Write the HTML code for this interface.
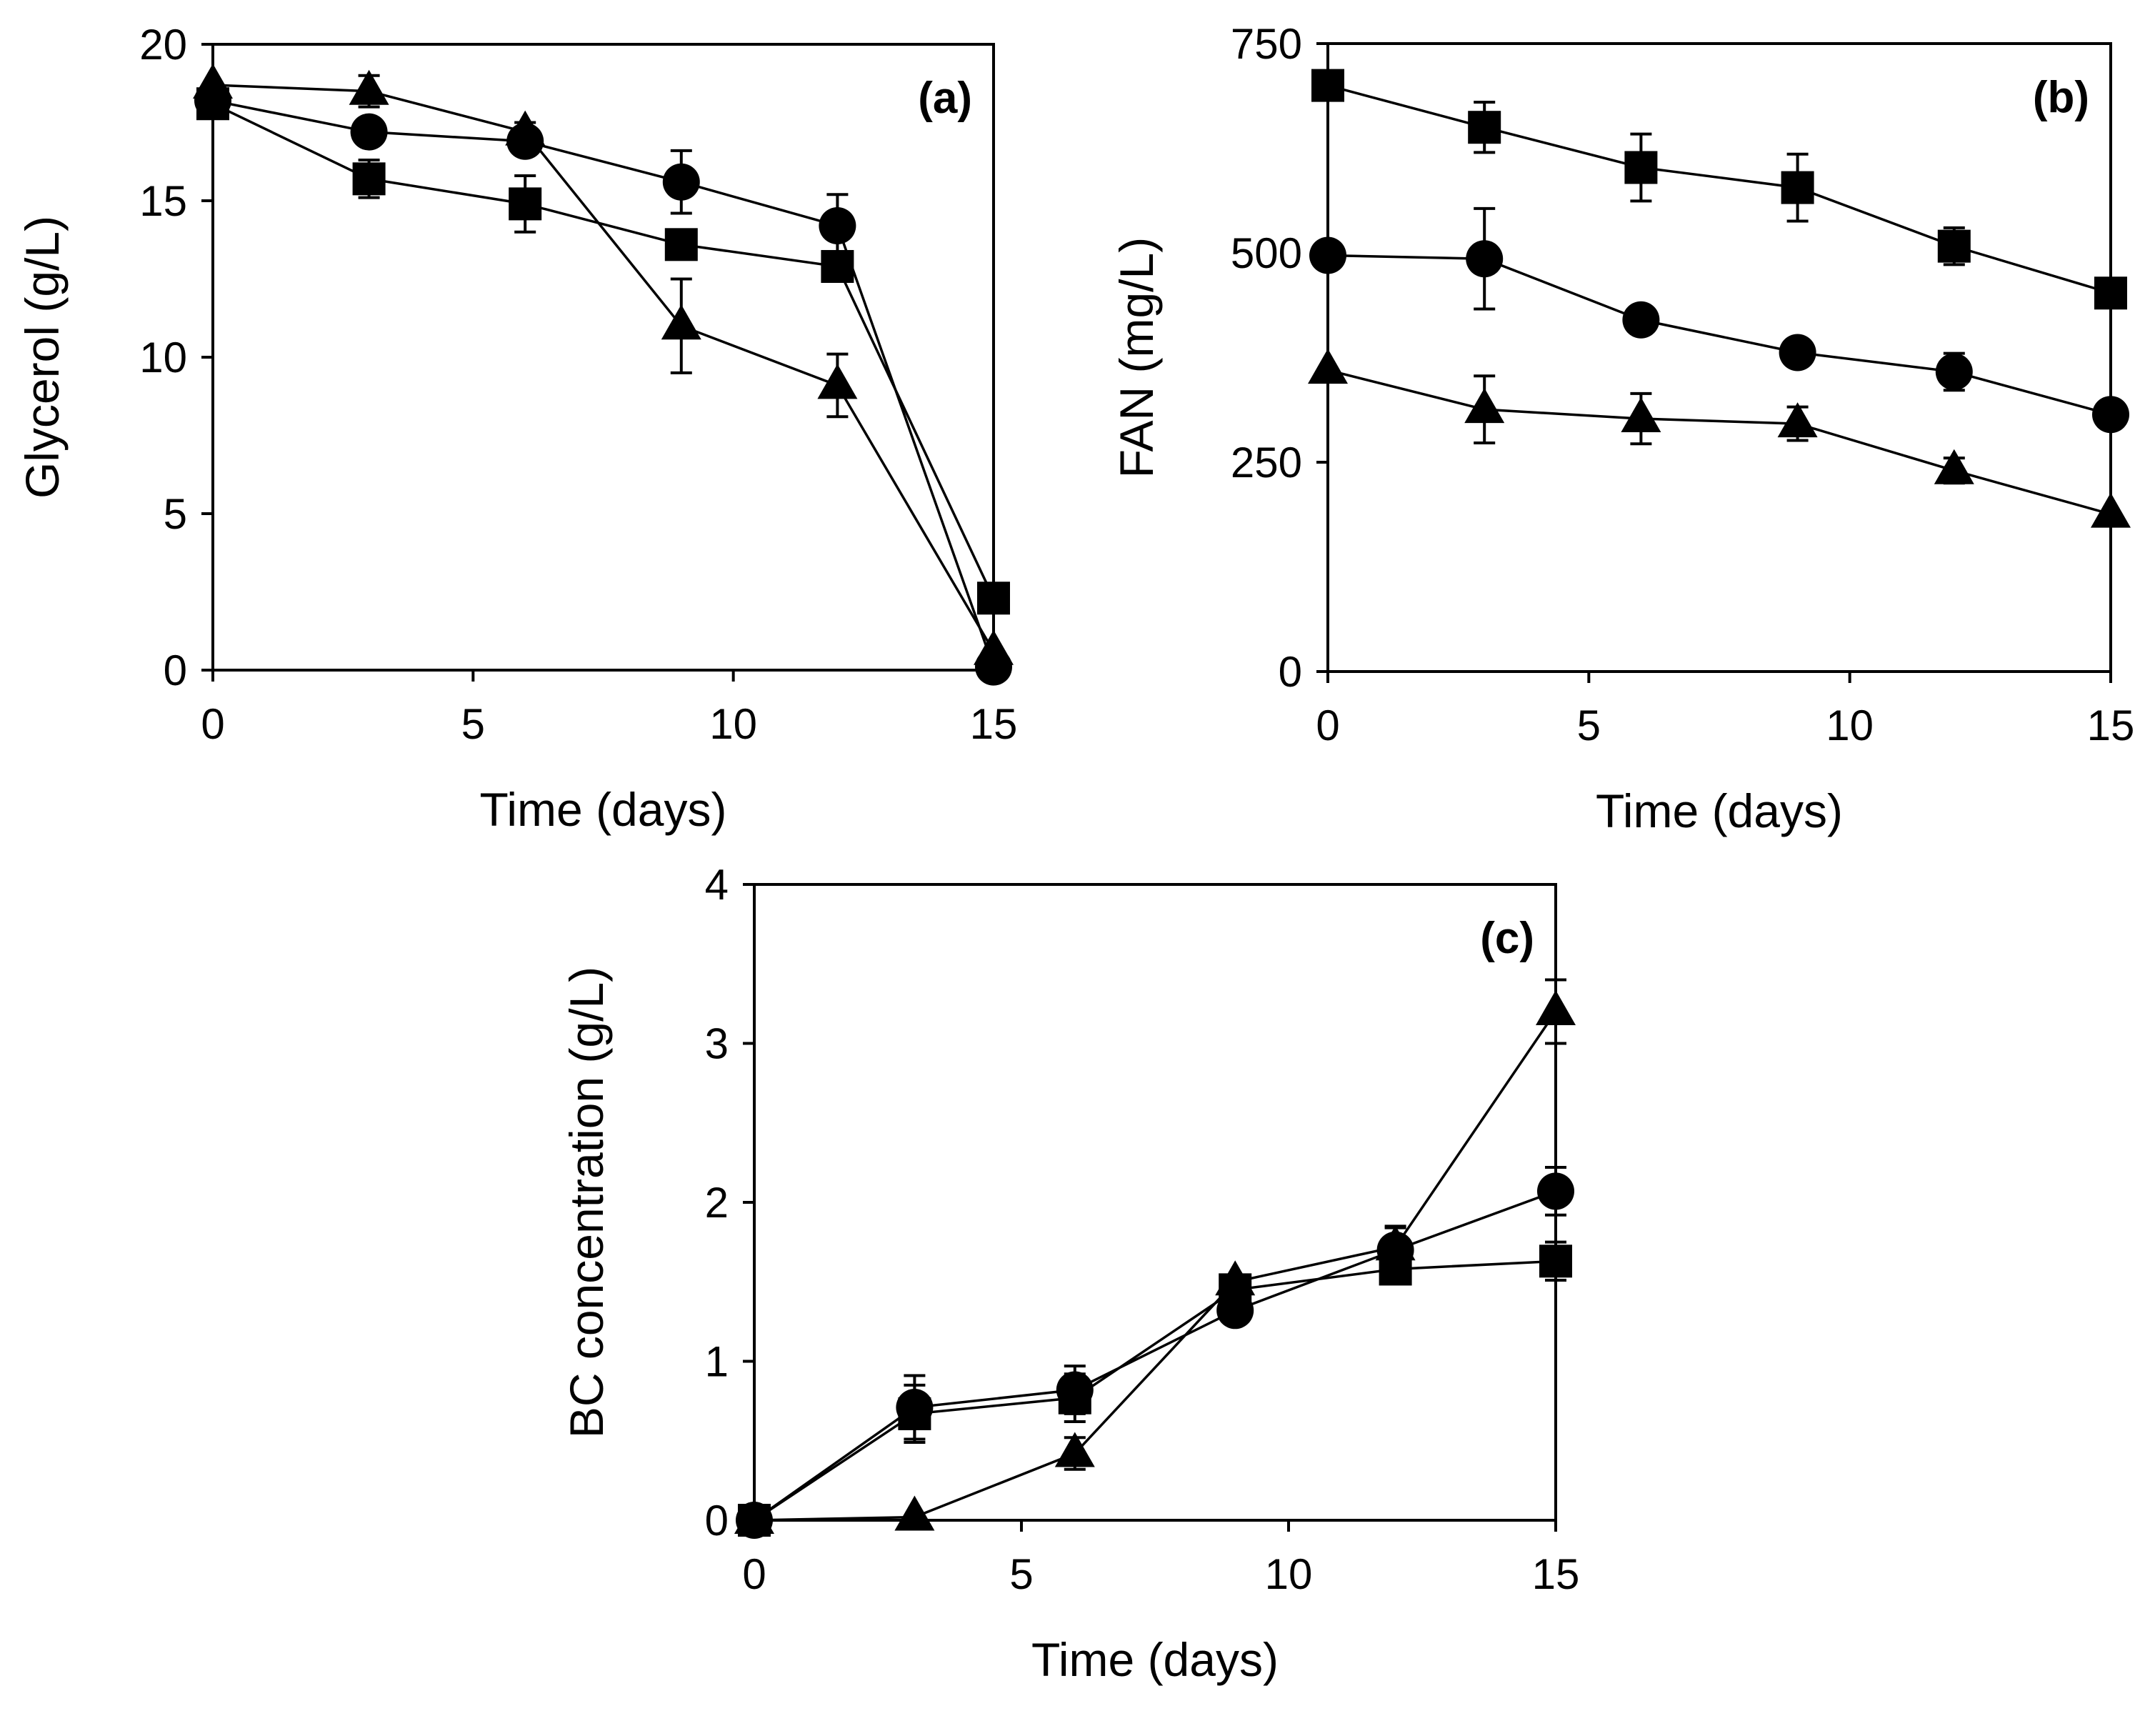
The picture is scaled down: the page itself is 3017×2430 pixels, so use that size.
<!DOCTYPE html>
<html><head><meta charset="utf-8"><style>
html,body{margin:0;padding:0;background:#fff;}
svg{display:block;font-family:"Liberation Sans",Arial,sans-serif;}
</style></head><body>
<svg id="fig" width="3017" height="2430" viewBox="0 0 3017 2430"></svg>
<script>
const days = [0,3,6,9,12,15];
// Panel (a) glycerol g/L
const aSquare = [18.1,15.7,14.9,13.6,12.9,2.3];
const aSquareErr = [0.2,0.6,0.9,0.2,0.3,0];
const aCircle = [18.2,17.2,16.9,15.6,14.2,0.1];
const aCircleErr = [0,0.3,0.3,1.0,1.0,0];
const aTriangle = [18.7,18.5,17.2,11.0,9.1,0.6];
const aTriangleErr = [0,0.5,0.3,1.5,1.0,0];
const aTicks = [0,5,10,15,20];
// Panel (b) FAN mg/L
const bSquare = [700,650,602,578,508,452];
const bSquareErr = [0,30,40,40,22,0];
const bCircle = [497,493,420,381,358,307];
const bCircleErr = [0,60,0,0,22,0];
const bTriangle = [360,313,302,296,240,188];
const bTriangleErr = [0,40,30,20,15,0];
const bTicks = [0,250,500,750];
// Panel (c) BC concentration g/L
const cSquare = [0,0.67,0.77,1.45,1.58,1.63];
const cSquareErr = [0,0.18,0.15,0,0,0.12];
const cCircle = [0,0.71,0.82,1.32,1.70,2.07];
const cCircleErr = [0,0.2,0.15,0,0.15,0.15];
const cTriangle = [0,0.02,0.42,1.50,1.72,3.20];
const cTriangleErr = [0,0,0.1,0,0.12,0.2];
const cTicks = [0,1,2,3,4];
const xTicks = [0,5,10,15];

const NS="http://www.w3.org/2000/svg";
const svg=document.getElementById('fig');
function mk(tag,attrs,parent){const e=document.createElementNS(NS,tag);for(const k in attrs)e.setAttribute(k,attrs[k]);(parent||svg).appendChild(e);return e;}

function panel(p){
  const g=mk('g',{});
  
  
  const sx=v=>p.x0+(v-0)/15*(p.x1-p.x0);
  const sy=v=>p.y0-(v/p.ymax)*(p.y0-p.y1);
  const fr=mk('rect',{x:p.x0,y:p.y1,width:p.x1-p.x0,height:p.y0-p.y1,fill:'none',stroke:'#000','stroke-width':4},g);
  
  
  xTicks.forEach(t=>{
    const l=mk('line',{x1:sx(t),x2:sx(t),y1:p.y0,y2:p.y0+16,stroke:'#000','stroke-width':4},g);
    
    
    const tx=mk('text',{x:sx(t),y:p.y0+96,'text-anchor':'middle','font-size':60},g);
    tx.textContent=t;
    
    
  });
  p.yticks.forEach(t=>{
    const l=mk('line',{x1:p.x0-16,x2:p.x0,y1:sy(t),y2:sy(t),stroke:'#000','stroke-width':4},g);
    
    
    const tx=mk('text',{x:p.x0-36,y:sy(t)+21,'text-anchor':'end','font-size':60},g);
    tx.textContent=t;
    
    
  });
  const xt=mk('text',{x:(p.x0+p.x1)/2,y:p.y0+218,'text-anchor':'middle','font-size':66},g);
  xt.textContent='Time (days)';
  
  
  const yt=mk('text',{x:p.ytx,y:(p.y0+p.y1)/2,'text-anchor':'middle','font-size':66,transform:`rotate(-90 ${p.ytx} ${(p.y0+p.y1)/2})`},g);
  yt.textContent=p.ytitle;
  
  
  const pl=mk('text',{x:p.x1-30,y:p.y1+96,'text-anchor':'end','font-size':62,'font-weight':'bold'},g);
  pl.textContent=p.label;
  
  
  p.series.forEach(s=>{
    const sg=mk('g',{},g);
    
    
    const pts=days.map((d,i)=>sx(d)+','+sy(s.v[i])).join(' ');
    const ln=mk('polyline',{points:pts,fill:'none',stroke:'#000','stroke-width':3.5},sg);
    
    
    days.forEach((d,i)=>{
      const e=s.e[i];const cx=sx(d),cy=sy(s.v[i]);
      if(e>0){
        const eb=mk('path',{d:`M${cx},${sy(s.v[i]-e)}V${sy(s.v[i]+e)}M${cx-15},${sy(s.v[i]+e)}H${cx+15}M${cx-15},${sy(s.v[i]-e)}H${cx+15}`,stroke:'#000','stroke-width':4,fill:'none'},sg);
        
        
      }
      let m;
      if(s.shape==='square') m=mk('rect',{x:cx-23,y:cy-23,width:46,height:46,fill:'#000'},sg);
      else if(s.shape==='circle') m=mk('circle',{cx:cx,cy:cy,r:26,fill:'#000'},sg);
      else m=mk('polygon',{points:`${cx},${cy-30} ${cx-28},${cy+19} ${cx+28},${cy+19}`,fill:'#000'},sg);
      
      
    });
  });
}
panel({name:'panel-a-glycerol',x0:298,x1:1391,y0:938,y1:62,ymax:20,yticks:aTicks,ytitle:'Glycerol (g/L)',ytx:82,label:'(a)',
  series:[{name:'series-square',shape:'square',v:aSquare,e:aSquareErr},{name:'series-circle',shape:'circle',v:aCircle,e:aCircleErr},{name:'series-triangle',shape:'triangle',v:aTriangle,e:aTriangleErr}]});
panel({name:'panel-b-fan',x0:1859,x1:2955,y0:940,y1:61,ymax:750,yticks:bTicks,ytitle:'FAN (mg/L)',ytx:1614,label:'(b)',
  series:[{name:'series-square',shape:'square',v:bSquare,e:bSquareErr},{name:'series-circle',shape:'circle',v:bCircle,e:bCircleErr},{name:'series-triangle',shape:'triangle',v:bTriangle,e:bTriangleErr}]});
panel({name:'panel-c-bc',x0:1056,x1:2178,y0:2128,y1:1238,ymax:4,yticks:cTicks,ytitle:'BC concentration (g/L)',ytx:844,label:'(c)',
  series:[{name:'series-square',shape:'square',v:cSquare,e:cSquareErr},{name:'series-circle',shape:'circle',v:cCircle,e:cCircleErr},{name:'series-triangle',shape:'triangle',v:cTriangle,e:cTriangleErr}]});
</script>
</body></html>
